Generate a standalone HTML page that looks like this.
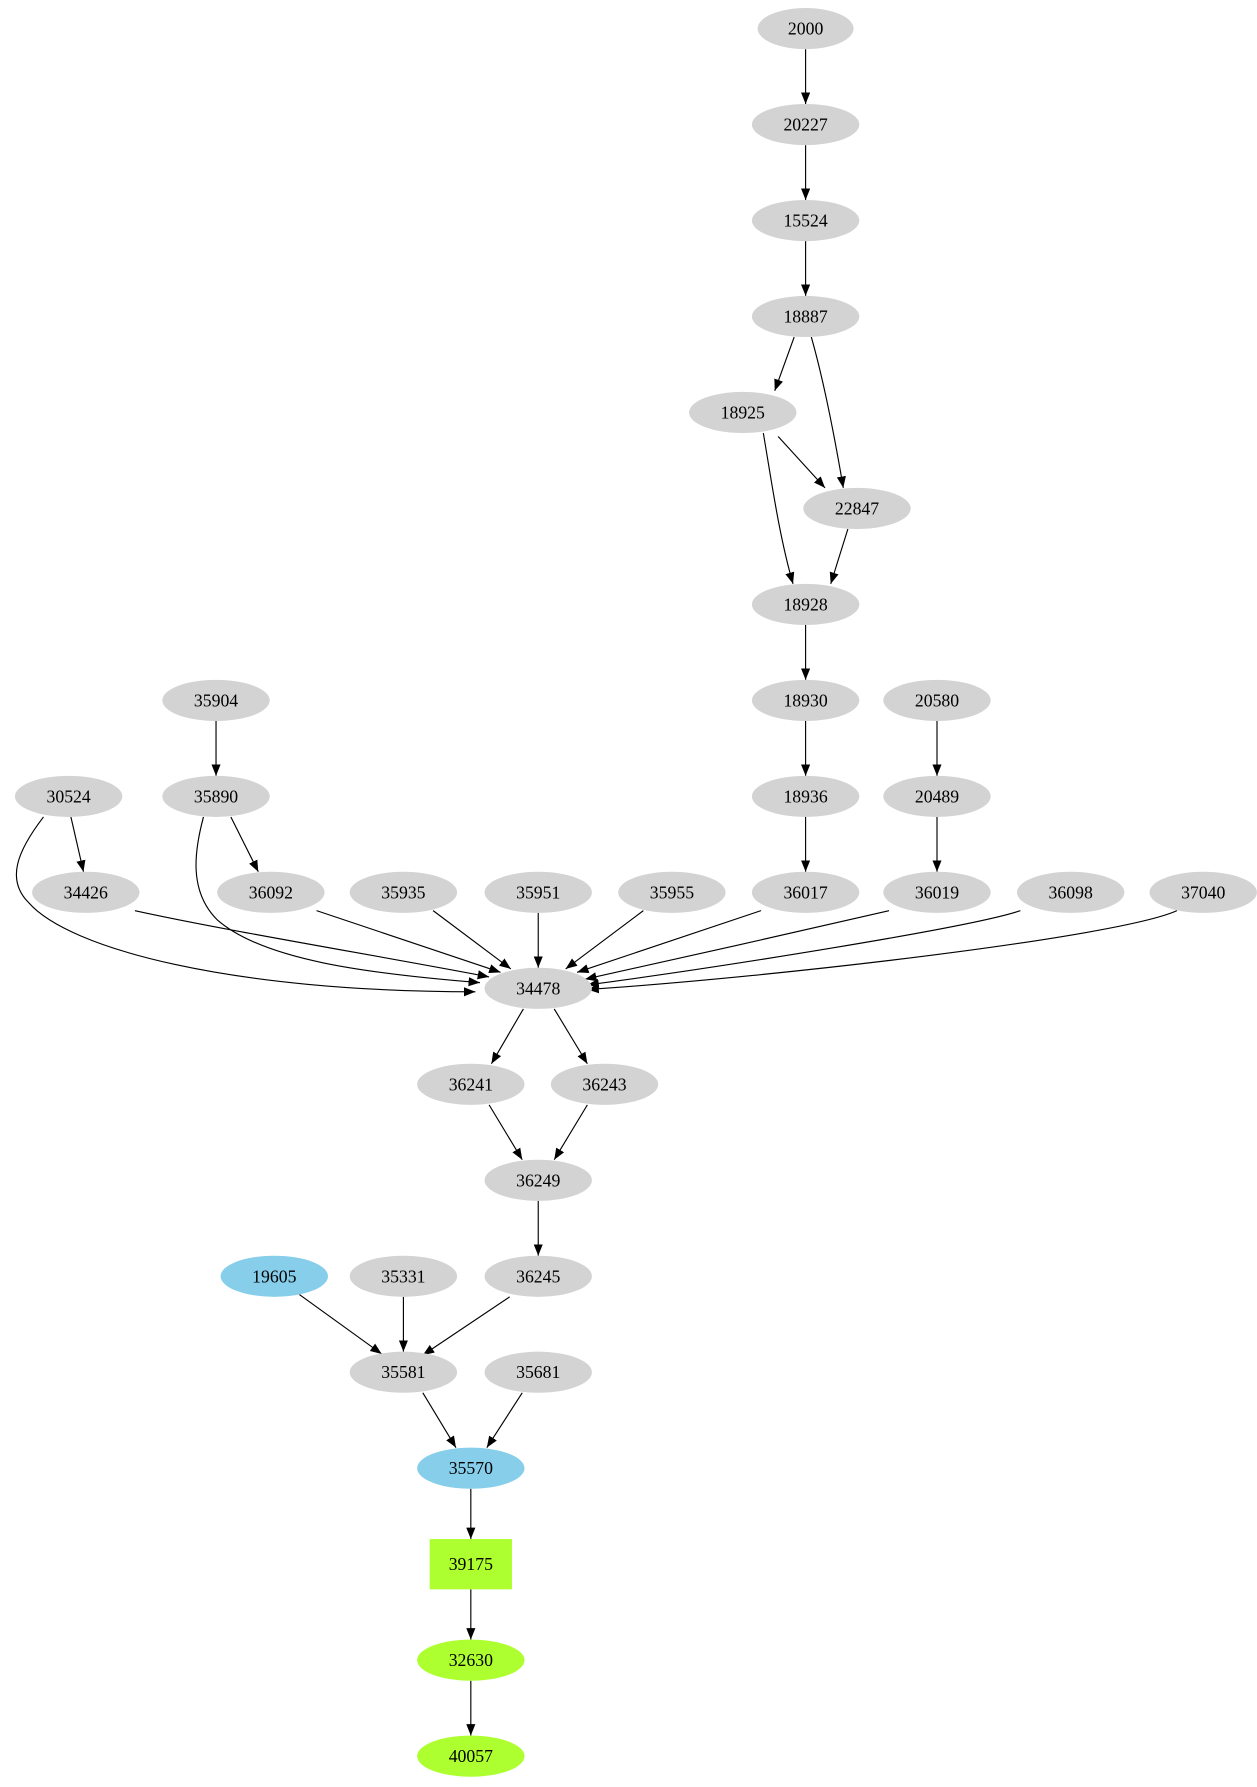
<!DOCTYPE html>
<html><head><meta charset="utf-8"><style>
html,body{margin:0;padding:0;background:#fff}
svg{display:block}
text{font-family:"Liberation Serif",serif;font-size:15.5px;text-anchor:middle;dominant-baseline:central;fill:#000}
</style></head><body>
<svg width="1257" height="1787" viewBox="0 0 1100 1564" xmlns="http://www.w3.org/2000/svg">
<defs><marker id="a" markerWidth="10" markerHeight="8" refX="10" refY="4" orient="auto" markerUnits="userSpaceOnUse"><path d="M0,0 L10,4 L0,8 z" fill="#000"/></marker></defs>
<g fill="none" stroke="#000" stroke-width="1" marker-end="url(#a)">
<path d="M705,43 V91"/>
<path d="M705,127 V175"/>
<path d="M705,211 V259"/>
<path d="M695,295 L678,342"/>
<path d="M710,295 C720,330 730,380 738,427"/>
<path d="M681,382 L722,427"/>
<path d="M668,379 C675,420 682,470 694,511"/>
<path d="M742,463 L727,511"/>
<path d="M705,547 V595"/>
<path d="M705,631 V679"/>
<path d="M820,631 V679"/>
<path d="M705,715 V763"/>
<path d="M820,715 V763"/>
<path d="M189,631 V679"/>
<path d="M202,715 L226,763"/>
<path d="M62,715 L73,763"/>
<path d="M38,715 C15,745 5,770 25,790 C60,830 200,868 416,868"/>
<path d="M178,715 C170,745 165,780 190,805 C230,840 320,852 420,860"/>
<path d="M118,797 C200,815 340,838 428,855"/>
<path d="M277,797 L438,851"/>
<path d="M379,797 L447,848"/>
<path d="M471,799 V847"/>
<path d="M563,797 L495,848"/>
<path d="M666,797 L505,851"/>
<path d="M778,797 C700,815 590,840 512,857"/>
<path d="M893,797 C850,812 620,848 514,862"/>
<path d="M1030,797 C980,820 680,855 514,866"/>
<path d="M458,883 L430,931"/>
<path d="M485,883 L514,931"/>
<path d="M428,967 L457,1015"/>
<path d="M514,967 L485,1015"/>
<path d="M471,1051 V1099"/>
<path d="M262,1133 L334,1185"/>
<path d="M353,1135 V1183"/>
<path d="M446,1135 L370,1186"/>
<path d="M370,1219 L399,1267"/>
<path d="M457,1219 L426,1267"/>
<path d="M412,1303 V1347"/>
<path d="M412,1391 V1435"/>
<path d="M412,1471 V1519"/>
</g>
<g fill="#d3d3d3">
<ellipse cx="705" cy="25" rx="42" ry="18"/>
<ellipse cx="705" cy="109" rx="47" ry="18"/>
<ellipse cx="705" cy="193" rx="47" ry="18"/>
<ellipse cx="705" cy="277" rx="47" ry="18"/>
<ellipse cx="650" cy="361" rx="47" ry="18"/>
<ellipse cx="750" cy="445" rx="47" ry="18"/>
<ellipse cx="705" cy="529" rx="47" ry="18"/>
<ellipse cx="705" cy="613" rx="47" ry="18"/>
<ellipse cx="820" cy="613" rx="47" ry="18"/>
<ellipse cx="705" cy="697" rx="47" ry="18"/>
<ellipse cx="820" cy="697" rx="47" ry="18"/>
<ellipse cx="189" cy="613" rx="47" ry="18"/>
<ellipse cx="189" cy="697" rx="47" ry="18"/>
<ellipse cx="60" cy="697" rx="47" ry="18"/>
<ellipse cx="75" cy="781" rx="47" ry="18"/>
<ellipse cx="237" cy="781" rx="47" ry="18"/>
<ellipse cx="353" cy="781" rx="47" ry="18"/>
<ellipse cx="471" cy="781" rx="47" ry="18"/>
<ellipse cx="588" cy="781" rx="47" ry="18"/>
<ellipse cx="705" cy="781" rx="47" ry="18"/>
<ellipse cx="820" cy="781" rx="47" ry="18"/>
<ellipse cx="937" cy="781" rx="47" ry="18"/>
<ellipse cx="1053" cy="781" rx="47" ry="18"/>
<ellipse cx="471" cy="865" rx="47" ry="18"/>
<ellipse cx="412" cy="949" rx="47" ry="18"/>
<ellipse cx="529" cy="949" rx="47" ry="18"/>
<ellipse cx="471" cy="1033" rx="47" ry="18"/>
<ellipse cx="353" cy="1117" rx="47" ry="18"/>
<ellipse cx="471" cy="1117" rx="47" ry="18"/>
<ellipse cx="353" cy="1201" rx="47" ry="18"/>
<ellipse cx="471" cy="1201" rx="47" ry="18"/>
</g>
<ellipse cx="240" cy="1117" rx="47" ry="18" fill="#87ceeb"/>
<ellipse cx="412" cy="1285" rx="47" ry="18" fill="#87ceeb"/>
<rect x="376" y="1347" width="72" height="44" fill="#adff2f"/>
<ellipse cx="412" cy="1453" rx="47" ry="18" fill="#adff2f"/>
<ellipse cx="412" cy="1537" rx="47" ry="18" fill="#adff2f"/>
<text x="705" y="25">2000</text>
<text x="705" y="109">20227</text>
<text x="705" y="193">15524</text>
<text x="705" y="277">18887</text>
<text x="650" y="361">18925</text>
<text x="750" y="445">22847</text>
<text x="705" y="529">18928</text>
<text x="705" y="613">18930</text>
<text x="820" y="613">20580</text>
<text x="705" y="697">18936</text>
<text x="820" y="697">20489</text>
<text x="189" y="613">35904</text>
<text x="189" y="697">35890</text>
<text x="60" y="697">30524</text>
<text x="75" y="781">34426</text>
<text x="237" y="781">36092</text>
<text x="353" y="781">35935</text>
<text x="471" y="781">35951</text>
<text x="588" y="781">35955</text>
<text x="705" y="781">36017</text>
<text x="820" y="781">36019</text>
<text x="937" y="781">36098</text>
<text x="1053" y="781">37040</text>
<text x="471" y="865">34478</text>
<text x="412" y="949">36241</text>
<text x="529" y="949">36243</text>
<text x="471" y="1033">36249</text>
<text x="240" y="1117">19605</text>
<text x="353" y="1117">35331</text>
<text x="471" y="1117">36245</text>
<text x="353" y="1201">35581</text>
<text x="471" y="1201">35681</text>
<text x="412" y="1285">35570</text>
<text x="412" y="1369">39175</text>
<text x="412" y="1453">32630</text>
<text x="412" y="1537">40057</text>
</svg>
</body></html>
